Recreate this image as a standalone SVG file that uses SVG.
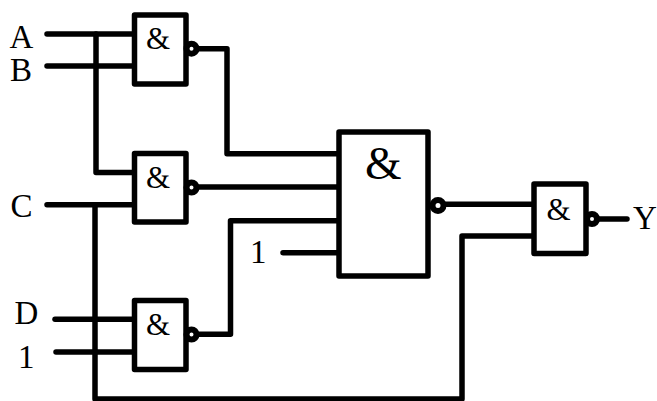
<svg xmlns="http://www.w3.org/2000/svg" width="657" height="401" viewBox="0 0 657 401">
<style>
.w{fill:none;stroke:#000;stroke-width:5.5;stroke-linejoin:round;stroke-linecap:round}
.g{fill:#fff;stroke:#000;stroke-width:5.5;stroke-linejoin:round}
.b{fill:#fff;stroke:#000;stroke-width:6}
text{font-family:"Liberation Serif","Times New Roman",serif;fill:#000}
.l{font-size:33px}
.a{font-size:31px}
</style>
<rect width="657" height="401" fill="#fff"/>
<g id="connectors">
<path class="w" d="M47 34H134"/>
<path class="w" d="M47 66H134"/>
<path class="w" d="M96 34V172.5H134"/>
<path class="w" d="M47 204.7H134"/>
<path class="w" d="M95 204.7V399H462V236H534"/>
<path class="w" d="M55 319.3H134"/>
<path class="w" d="M56 352H134"/>
<path class="w" d="M195 48.7H227V153.7H339"/>
<path class="w" d="M195 187H339"/>
<path class="w" d="M195 334.3H230.5V220.7H339"/>
<path class="w" d="M283 252.7H339"/>
<path class="w" d="M442 204.3H534"/>
<path class="w" d="M595 219H627"/>
</g>
<g id="gate1"><rect class="g" x="134.5" y="15" width="51.5" height="69"/><circle class="b" cx="191.5" cy="48.7" r="5"/><text class="a" x="146" y="49">&amp;</text></g>
<g id="gate2"><rect class="g" x="134.5" y="153.5" width="51.5" height="68.5"/><circle class="b" cx="191.5" cy="187.5" r="5"/><text class="a" x="146" y="188">&amp;</text></g>
<g id="gate3"><rect class="g" x="134.5" y="300.5" width="51.5" height="69"/><circle class="b" cx="191.5" cy="334.5" r="5"/><text class="a" x="146" y="335">&amp;</text></g>
<g id="gate4"><rect class="g" x="339" y="132" width="89" height="144"/><circle class="b" cx="438" cy="205.5" r="5.5"/><text x="365" y="179" font-size="47">&amp;</text></g>
<g id="gate5"><rect class="g" x="534" y="184" width="52" height="69.5"/><circle class="b" cx="592" cy="219" r="5"/><text class="a" x="546.5" y="220">&amp;</text></g>
<g id="labels">
<text class="l" x="9.5" y="48">A</text>
<text class="l" x="10" y="80.5">B</text>
<text class="l" x="10.5" y="216.5">C</text>
<text class="l" x="14.5" y="324">D</text>
<text class="l" x="18" y="367.5">1</text>
<text class="l" x="250" y="263">1</text>
<text class="l" x="633" y="229">Y</text>
</g>
</svg>
